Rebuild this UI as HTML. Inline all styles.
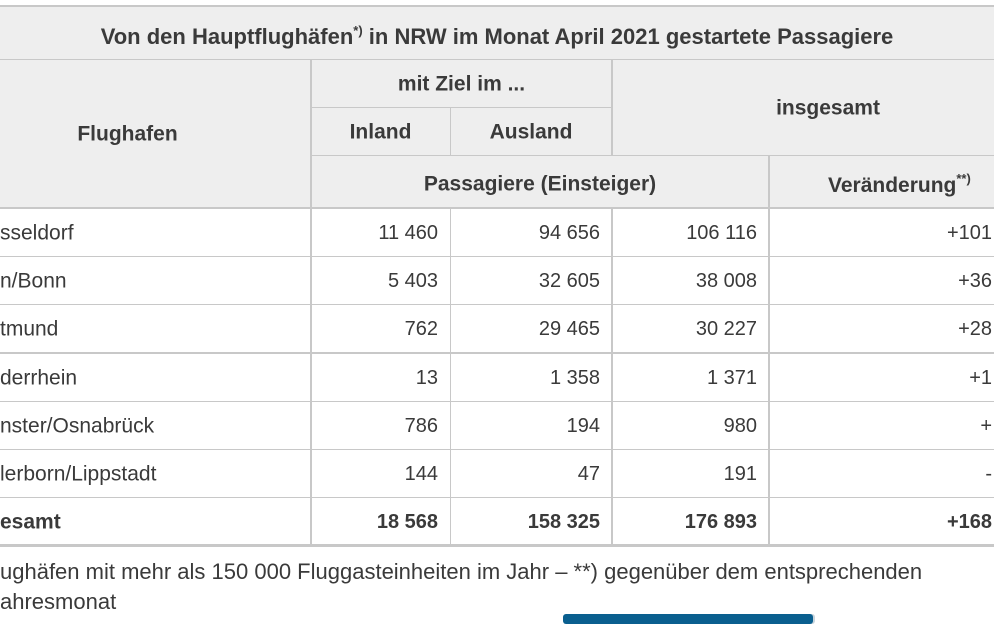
<!DOCTYPE html>
<html><head><meta charset="utf-8"><style>
body{margin:0;width:994px;height:621px;overflow:hidden;background:#fff;font-family:"Liberation Sans",sans-serif;color:#3a3a3a;position:relative}
.a{position:absolute;white-space:nowrap;line-height:1}
.h{position:absolute;background:#eeeeee}
.l{position:absolute;background:#c8c8c8}
.b{font-weight:bold}
.t{font-size:21px;transform:translateY(-50%)}
.n{font-size:20px}
.r{text-align:right}
.c{text-align:center}
sup{font-size:13px;vertical-align:9px}
</style></head><body>
<div class="h" style="left:0;top:6px;width:994px;height:201px"></div>
<div class="l" style="left:0;top:5px;width:994px;height:2px"></div>
<div class="l" style="left:0;top:59px;width:994px;height:1px"></div>
<div class="l" style="left:311px;top:107px;width:301px;height:1px"></div>
<div class="l" style="left:311px;top:155px;width:683px;height:1px"></div>
<div class="l" style="left:0;top:207px;width:994px;height:2px"></div>
<div class="l" style="left:310px;top:59px;width:2px;height:486px"></div>
<div class="l" style="left:450px;top:107px;width:1px;height:48px"></div>
<div class="l" style="left:450px;top:208px;width:1px;height:337px"></div>
<div class="l" style="left:611px;top:59px;width:2px;height:96px"></div>
<div class="l" style="left:611px;top:208px;width:2px;height:337px"></div>
<div class="l" style="left:768px;top:155px;width:2px;height:390px"></div>
<div class="l" style="left:0;top:256px;width:994px;height:1px"></div>
<div class="l" style="left:0;top:304px;width:994px;height:1px"></div>
<div class="l" style="left:0;top:352px;width:994px;height:2px"></div>
<div class="l" style="left:0;top:401px;width:994px;height:1px"></div>
<div class="l" style="left:0;top:449px;width:994px;height:1px"></div>
<div class="l" style="left:0;top:497px;width:994px;height:1px"></div>
<div class="l" style="left:0;top:544px;width:994px;height:3px"></div>

<div class="a t b c" style="left:0;width:994px;top:36px;font-size:22px">Von den Hauptflughäfen<sup>*)</sup> in NRW im Monat April 2021 gestartete Passagiere</div>
<div class="a t b c" style="left:0;width:255px;top:134px">Flughafen</div>
<div class="a t b c" style="left:311px;width:301px;top:84px">mit Ziel im ...</div>
<div class="a t b c" style="left:311px;width:139px;top:132px">Inland</div>
<div class="a t b c" style="left:450px;width:162px;top:132px">Ausland</div>
<div class="a t b c" style="left:612px;width:432px;top:108px">insgesamt</div>
<div class="a t b c" style="left:311px;width:458px;top:184px">Passagiere (Einsteiger)</div>
<div class="a t b" style="left:828px;top:184px">Veränderung<sup>**)</sup></div>

<div class="a t" style="left:0;top:233px">sseldorf</div>
<div class="a t" style="left:0;top:281px">n/Bonn</div>
<div class="a t" style="left:0;top:329px">tmund</div>
<div class="a t" style="left:0;top:378px">derrhein</div>
<div class="a t" style="left:0;top:426px">nster/Osnabrück</div>
<div class="a t" style="left:0;top:474px">lerborn/Lippstadt</div>
<div class="a t b" style="left:0;top:522px">esamt</div>

<div class="a t n r" style="left:311px;width:127px;top:233px">11 460</div>
<div class="a t n r" style="left:311px;width:127px;top:281px">5 403</div>
<div class="a t n r" style="left:311px;width:127px;top:329px">762</div>
<div class="a t n r" style="left:311px;width:127px;top:378px">13</div>
<div class="a t n r" style="left:311px;width:127px;top:426px">786</div>
<div class="a t n r" style="left:311px;width:127px;top:474px">144</div>
<div class="a t n r b" style="left:311px;width:127px;top:522px">18 568</div>

<div class="a t n r" style="left:450px;width:150px;top:233px">94 656</div>
<div class="a t n r" style="left:450px;width:150px;top:281px">32 605</div>
<div class="a t n r" style="left:450px;width:150px;top:329px">29 465</div>
<div class="a t n r" style="left:450px;width:150px;top:378px">1 358</div>
<div class="a t n r" style="left:450px;width:150px;top:426px">194</div>
<div class="a t n r" style="left:450px;width:150px;top:474px">47</div>
<div class="a t n r b" style="left:450px;width:150px;top:522px">158 325</div>

<div class="a t n r" style="left:612px;width:145px;top:233px">106 116</div>
<div class="a t n r" style="left:612px;width:145px;top:281px">38 008</div>
<div class="a t n r" style="left:612px;width:145px;top:329px">30 227</div>
<div class="a t n r" style="left:612px;width:145px;top:378px">1 371</div>
<div class="a t n r" style="left:612px;width:145px;top:426px">980</div>
<div class="a t n r" style="left:612px;width:145px;top:474px">191</div>
<div class="a t n r b" style="left:612px;width:145px;top:522px">176 893</div>

<div class="a t n r" style="left:770px;width:222px;top:233px">+101</div>
<div class="a t n r" style="left:770px;width:222px;top:281px">+36</div>
<div class="a t n r" style="left:770px;width:222px;top:329px">+28</div>
<div class="a t n r" style="left:770px;width:222px;top:378px">+1</div>
<div class="a t n r" style="left:770px;width:222px;top:426px">+</div>
<div class="a t n r" style="left:770px;width:222px;top:474px">-</div>
<div class="a t n r b" style="left:770px;width:222px;top:522px">+168</div>

<div class="a t" style="left:0;top:572px;font-size:22px">ughäfen mit mehr als 150 000 Fluggasteinheiten im Jahr – **) gegenüber dem entsprechenden</div>
<div class="a t" style="left:0;top:602px;font-size:22px">ahresmonat</div>
<div style="position:absolute;left:563px;top:614px;width:250px;height:10px;background:#0a5f8f;border-radius:3px;box-shadow:2px 0 0 #c8d4dc"></div>
</body></html>
